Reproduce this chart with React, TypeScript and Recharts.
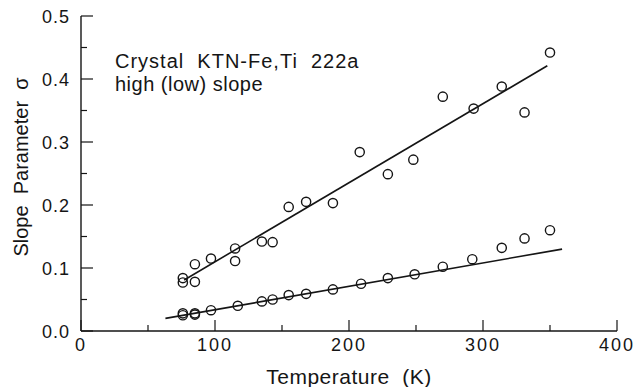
import { ComposedChart, Scatter, Line, XAxis, YAxis } from "recharts"

const highT = [76, 76, 85, 85, 97, 115, 115, 135, 143, 155, 168, 188, 208, 229, 248, 270, 293, 314, 331, 350]
const highS = [0.084, 0.077, 0.106, 0.078, 0.115, 0.131, 0.111, 0.142, 0.141, 0.197, 0.205, 0.203, 0.284, 0.249, 0.272, 0.372, 0.353, 0.388, 0.347, 0.442]

const lowT = [76, 76, 85, 85, 97, 117, 135, 143, 155, 168, 188, 209, 229, 249, 270, 292, 314, 331, 350]
const lowS = [0.028, 0.025, 0.028, 0.026, 0.033, 0.04, 0.047, 0.05, 0.057, 0.059, 0.066, 0.075, 0.084, 0.09, 0.102, 0.114, 0.132, 0.147, 0.16]

const fitHighT = [77, 348]
const fitHighS = [0.081, 0.421]
const fitLowT = [63, 359]
const fitLowS = [0.02, 0.13]

const xTicks = [0, 50, 100, 150, 200, 250, 300, 350, 400]
const yTicks = [0, 0.05, 0.1, 0.15, 0.2, 0.25, 0.3, 0.35, 0.4, 0.45, 0.5]

const zip = (t: number[], s: number[]) => t.map((v, i) => ({ t: v, s: s[i] }))

const high = zip(highT, highS)
const low = zip(lowT, lowS)
const fitHigh = zip(fitHighT, fitHighS)
const fitLow = zip(fitLowT, fitLowS)

const INK = "#151515"
const FONT = "'Liberation Sans', Arial, sans-serif"

const isMajorX = (v: number) => v % 100 === 0
const isMajorY = (v: number) => Math.round(v * 100) % 10 === 0

function BottomTick(props: any) {
  const { x, y, payload } = props
  const major = isMajorX(payload.value)
  return (
    <g>
      <line x1={x} x2={x} y1={y} y2={y - (major ? 11 : 6)} stroke={INK} strokeWidth={1.2} />
      {major && (
        <text x={x} y={y + 20} textAnchor="middle" fontSize={18} letterSpacing={2} fill={INK} fontFamily={FONT}>
          {payload.value}
        </text>
      )}
    </g>
  )
}

function TopTick(props: any) {
  const { x, y, payload } = props
  const major = isMajorX(payload.value)
  return <line x1={x} x2={x} y1={y} y2={y + (major ? 12 : 7)} stroke={INK} strokeWidth={1.2} />
}

function LeftTick(props: any) {
  const { x, y, payload } = props
  const major = isMajorY(payload.value)
  return (
    <g>
      <line x1={x} x2={x + (major ? 12 : 6)} y1={y} y2={y} stroke={INK} strokeWidth={1.2} />
      {major && (
        <text x={x - 11} y={y + 6.5} textAnchor="end" fontSize={18} letterSpacing={1} fill={INK} fontFamily={FONT}>
          {payload.value.toFixed(1)}
        </text>
      )}
    </g>
  )
}

function RightTick(props: any) {
  const { x, y, payload } = props
  const major = isMajorY(payload.value)
  return <line x1={x} x2={x - (major ? 13 : 7)} y1={y} y2={y} stroke={INK} strokeWidth={1.2} />
}

const OpenCircle = (props: any) => (
  <circle cx={props.cx} cy={props.cy} r={4.6} fill="none" stroke={INK} strokeWidth={1.4} />
)

export default function App() {
  return (
    <div style={{ position: "absolute", left: 0, top: 0, width: 636, height: 387, background: "#fff" }}>
      <ComposedChart width={636} height={387} margin={{ top: 16, right: 19, bottom: 0, left: 0 }}>
        <XAxis
          xAxisId="b"
          dataKey="t"
          type="number"
          domain={[0, 400]}
          ticks={xTicks}
          interval={0}
          height={56}
          tickSize={0}
          tickMargin={0}
          tick={BottomTick}
          axisLine={{ stroke: INK, strokeWidth: 1.4 }}
        />
        <XAxis
          xAxisId="t"
          orientation="top"
          dataKey="t"
          type="number"
          domain={[0, 400]}
          ticks={xTicks}
          interval={0}
          height={0}
          tickSize={0}
          tickMargin={0}
          tick={TopTick}
          axisLine={{ stroke: INK, strokeWidth: 1.4 }}
        />
        <YAxis
          yAxisId="l"
          type="number"
          domain={[0, 0.5]}
          ticks={yTicks}
          interval={0}
          width={81}
          tickSize={0}
          tickMargin={0}
          tick={LeftTick}
          axisLine={{ stroke: INK, strokeWidth: 1.4 }}
        />
        <YAxis
          yAxisId="r"
          orientation="right"
          type="number"
          domain={[0, 0.5]}
          ticks={yTicks}
          interval={0}
          width={0}
          tickSize={0}
          tickMargin={0}
          tick={RightTick}
          axisLine={{ stroke: INK, strokeWidth: 1.4 }}
        />
        <Line xAxisId="t" yAxisId="r" data={fitHigh} dataKey="s" stroke="none" dot={false} isAnimationActive={false} />
        <Line xAxisId="b" yAxisId="l" data={fitHigh} dataKey="s" stroke={INK} strokeWidth={1.6} dot={false} isAnimationActive={false} />
        <Line xAxisId="b" yAxisId="l" data={fitLow} dataKey="s" stroke={INK} strokeWidth={1.6} dot={false} isAnimationActive={false} />
        <Scatter xAxisId="b" yAxisId="l" data={high} dataKey="s" shape={OpenCircle} isAnimationActive={false} />
        <Scatter xAxisId="b" yAxisId="l" data={low} dataKey="s" shape={OpenCircle} isAnimationActive={false} />
      </ComposedChart>
      <svg width={636} height={387} style={{ position: "absolute", left: 0, top: 0, pointerEvents: "none" }}>
        <g fontFamily={FONT} fill={INK}>
          <text x={115} y={68} fontSize={20} letterSpacing={1}>
            Crystal{"\u00a0\u00a0"}KTN-Fe,Ti{"\u00a0\u00a0"}222a
          </text>
          <text x={115} y={91} fontSize={20} letterSpacing={0.5}>
            high (low) slope
          </text>
          <text x={349} y={384} textAnchor="middle" fontSize={21} letterSpacing={0.5}>
            Temperature{"\u00a0\u00a0"}(K)
          </text>
          <text x={28} y={167} transform="rotate(-90 28 167)" textAnchor="middle" fontSize={20}>
            Slope{"\u00a0\u00a0"}Parameter{"\u00a0\u00a0"}σ
          </text>
        </g>
      </svg>
    </div>
  )
}
